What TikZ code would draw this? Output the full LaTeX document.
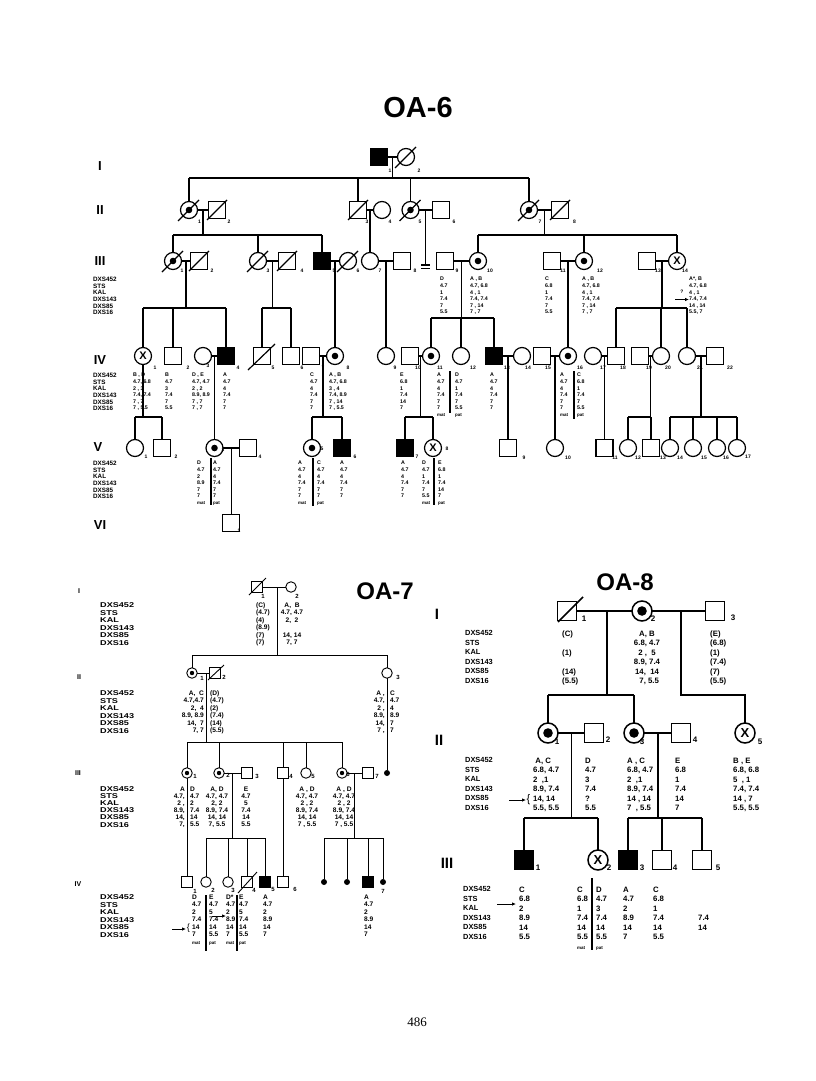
\documentclass[tikz,border=0pt]{standalone}
\usepackage{fontspec}
\setmainfont{Liberation Sans}
\newfontfamily\serifpn{Liberation Serif}
\newfontfamily\widesf[FakeStretch=1.3]{Liberation Sans}
\usetikzlibrary{calc,arrows.meta}
\newcommand\fav{\fontsize{5.3}{6.6}\selectfont\bfseries}
\newcommand\fal{\fontsize{6.3}{6.6}\selectfont\bfseries}
\newcommand\fan{\fontsize{5}{6}\selectfont\bfseries}
\newcommand\fmp{\fontsize{4.5}{5}\selectfont\bfseries}
\newcommand\fbv{\fontsize{6.6}{7.5}\selectfont\bfseries}
\newcommand\fbw{\fontsize{6.6}{7.1}\selectfont\bfseries}
\newcommand\fbl{\widesf\fontsize{7}{7.5}\selectfont\bfseries}
\newcommand\fblw{\widesf\fontsize{7}{7.1}\selectfont\bfseries}
\newcommand\fbn{\fontsize{6}{6}\selectfont\bfseries}
\newcommand\fcv{\fontsize{7.8}{9.5}\selectfont\bfseries}
\newcommand\fcl{\fontsize{7.4}{9.5}\selectfont\bfseries}
\newcommand\fcn{\fontsize{8}{8}\selectfont\bfseries}
\newcommand\mar[4][0.5]{\draw[lnk] (#2.east) -- coordinate[pos=#1] (#4) (#3.west);}
\newcommand\kid[2]{\draw[lnk] (#1.north) -- (#1.north |- 0,#2);}
\newcommand\sib[3]{\draw[lnk] (#1.north |- 0,#3) -- (#2.north |- 0,#3);}
\newcommand\pdown[2]{\draw[lnk] (#1) -- (#1 |- 0,#2);}
\newcommand\pto[2]{\draw[lnk] (#1) -- (#1 |- #2.north);}
\newcommand\slashit[5]{\draw[lnk] ($(#1.center)+(#2,#3)$) -- ($(#1.center)+(#4,#5)$);}
\newcommand\dotin[2]{\fill (#1.center) circle[radius=#2];}
\begin{document}
\begin{tikzpicture}[x=1pt,y=-1pt,
  lnk/.style={line width=1.2pt},
  bar/.style={line width=1.8pt},
  ar/.style={line width=0.8pt,-{Latex[length=4pt,width=3.5pt]}},
  m6/.style={draw,line width=1.2pt,minimum size=17pt,inner sep=0pt,outer sep=0pt},
  f6/.style={circle,draw,line width=1.2pt,minimum size=17pt,inner sep=0pt,outer sep=0pt},
  x6/.style={f6,font=\fontsize{11}{11}\selectfont\bfseries},
  m7/.style={draw,line width=0.9pt,minimum size=11.5pt,inner sep=0pt,outer sep=0pt},
  f7/.style={circle,draw,line width=0.9pt,minimum size=10.5pt,inner sep=0pt,outer sep=0pt},
  d7/.style={circle,fill,minimum size=6pt,inner sep=0pt,outer sep=0pt},
  m8/.style={draw,line width=1.5pt,minimum size=19pt,inner sep=0pt,outer sep=0pt},
  f8/.style={circle,draw,line width=1.5pt,minimum size=20pt,inner sep=0pt,outer sep=0pt},
  x8/.style={f8,font=\fontsize{13}{13}\selectfont\bfseries},
  tv/.style={anchor=north west,inner sep=0pt,align=left},
  tr/.style={anchor=north east,inner sep=0pt,align=right},
  tc/.style={anchor=north,inner sep=0pt,align=center},
  v6/.style={tv,font=\fav}, l6/.style={tv,font=\fal},
  v7/.style={tv,font=\fbv}, r7/.style={tr,font=\fbv}, c7/.style={tc,font=\fbv}, l7/.style={tv,font=\fbl},
  w7/.style={tv,font=\fbw}, wr7/.style={tr,font=\fbw}, wc7/.style={tc,font=\fbw}, wl7/.style={tv,font=\fblw},
  v8/.style={tv,font=\fcv}, c8/.style={tc,font=\fcv}, l8/.style={tv,font=\fcl},
  n6/.style={font=\fan,inner sep=0pt},
  n7/.style={font=\fbn,inner sep=0pt},
  n8/.style={font=\fcn,inner sep=0pt},
  g6/.style={font=\fontsize{13}{13}\selectfont\bfseries,inner sep=0pt},
  g7/.style={font=\fontsize{7}{7}\selectfont\bfseries,inner sep=0pt},
  g8/.style={font=\fontsize{15}{15}\selectfont\bfseries,inner sep=0pt}]
\useasboundingbox (0,0) rectangle (816,1081);
\fill[white] (0,0) rectangle (816,1081);

%================ OA-6 =================
\begin{scope}[lnk/.style={line width=1.2pt}]
\node[font=\fontsize{29}{30}\selectfont\bfseries] (tA) at (418,108) {OA-6};
\node[g6] (gA1) at (100,166) {I};
\node[g6] (gA2) at (100,210) {II};
\node[g6] (gA3) at (100,261) {III};
\node[g6] (gA4) at (100,360) {IV};
\node[g6] (gA5) at (98,447) {V};
\node[g6] (gA6) at (100,525) {VI};
% Gen I
\node[m6,fill=black] (a11) at (379,157) {};
\node[f6] (a12) at (406,157) {}; \slashit{a12}{-11}{11}{10}{-10}
\mar{a11}{a12}{ma1}
\pdown{ma1}{178}
% Gen II
\node[f6] (a21) at (189,210) {}; \dotin{a21}{3.3pt}\slashit{a21}{-11}{11}{10}{-10}
\node[m6] (a22) at (217,210) {}; \slashit{a22}{-10}{10}{10}{-10}
\node[m6] (a23) at (358,210) {}; \slashit{a23}{-10}{10}{10}{-10}
\node[f6] (a24) at (382,210) {};
\node[f6] (a25) at (410.5,210) {}; \dotin{a25}{3.3pt}\slashit{a25}{-11}{11}{10}{-10}
\node[m6] (a26) at (441,210) {};
\node[f6] (a27) at (529,210) {}; \dotin{a27}{3.3pt}\slashit{a27}{-11}{11}{10}{-10}
\node[m6] (a28) at (560,210) {}; \slashit{a28}{-10}{10}{10}{-10}
\sib{a21}{a27}{178}
\kid{a21}{178}\kid{a23}{178}\kid{a25}{178}\kid{a27}{178}
\mar{a21}{a22}{ma21}\mar{a23}{a24}{ma23}\mar{a25}{a26}{ma25}\mar{a27}{a28}{ma27}
\pdown{ma21}{235}
\pdown{ma27}{235}
\coordinate (eq) at (ma25 |- 0,265);
\draw[lnk] (ma25) -- (eq);
\draw[lnk] ($(eq)+(-4.5,0)$) -- ($(eq)+(4.5,0)$);
\draw[lnk] ($(eq)+(-4.5,3.5)$) -- ($(eq)+(4.5,3.5)$);
% Gen III
\node[f6] (a31) at (173,261) {}; \dotin{a31}{3.3pt}\slashit{a31}{-11}{11}{10}{-10}
\node[m6] (a32) at (199,261) {}; \slashit{a32}{-10}{10}{10}{-10}
\node[f6] (a33) at (258,261) {}; \slashit{a33}{-11}{11}{10}{-10}
\node[m6] (a34) at (287,261) {}; \slashit{a34}{-10}{10}{10}{-10}
\node[m6,fill=black] (a35) at (322,261) {};
\node[f6] (a36) at (348,261) {}; \slashit{a36}{-11}{11}{10}{-10}
\node[f6] (a37) at (370,261) {};
\node[m6] (a38) at (402,261) {};
\node[m6] (a39) at (445,261) {};
\node[f6] (a310) at (478,261) {}; \dotin{a310}{3.3pt}
\node[m6] (a311) at (552,261) {};
\node[f6] (a312) at (584,261) {}; \dotin{a312}{3.3pt}
\node[m6] (a313) at (647,261) {};
\node[x6] (a314) at (677,261) {X};
\pto{ma23}{a37}
\sib{a31}{a35}{235}\kid{a31}{235}\kid{a33}{235}\kid{a35}{235}
\sib{a310}{a314}{235}\kid{a310}{235}\kid{a312}{235}\kid{a314}{235}
\mar{a31}{a32}{ma31}\mar{a33}{a34}{ma33}\mar{a35}{a36}{ma35}\mar{a37}{a38}{ma37}
\mar{a39}{a310}{ma39}\mar{a311}{a312}{ma311}\mar{a313}{a314}{ma313}
\pdown{ma31}{308}\pdown{ma33}{308}\pdown{ma39}{318}\pdown{ma313}{308}
% Gen IV
\node[x6] (a41) at (143,356) {X};
\node[m6] (a42) at (173,356) {};
\node[f6] (a43) at (203,356) {};
\node[m6,fill=black] (a44) at (226,356) {};
\node[m6] (a45) at (262,356) {}; \slashit{a45}{-14}{14}{13}{-12}
\node[m6] (a46) at (291,356) {};
\node[m6] (a47) at (311,356) {};
\node[f6] (a48) at (335,356) {}; \dotin{a48}{3.3pt}
\node[f6] (a49) at (386,356) {};
\node[m6] (a410) at (410,356) {};
\node[f6] (a411) at (431,356) {}; \dotin{a411}{3.3pt}
\node[f6] (a412) at (461,356) {};
\node[m6,fill=black] (a413) at (494,356) {};
\node[f6] (a414) at (522,356) {};
\node[m6] (a415) at (542,356) {};
\node[f6] (a416) at (568,356) {}; \dotin{a416}{3.3pt}
\node[f6] (a417) at (593,356) {};
\node[m6] (a418) at (616,356) {};
\node[m6] (a419) at (640,356) {};
\node[f6] (a420) at (661,356) {};
\node[f6] (a421) at (687,356) {};
\node[m6] (a422) at (715,356) {};
\pto{ma35}{a48}\pto{ma37}{a49}\pto{ma311}{a416}
\sib{a41}{a44}{308}\kid{a41}{308}\kid{a42}{308}\kid{a44}{308}
\sib{a45}{a46}{308}\kid{a45}{308}\kid{a46}{308}
\sib{a411}{a413}{318}\kid{a411}{318}\kid{a412}{318}\kid{a413}{318}
\sib{a418}{a421}{308}\kid{a418}{308}\kid{a420}{308}\kid{a421}{308}
\mar{a43}{a44}{ma43}\mar{a47}{a48}{ma47}\mar{a410}{a411}{ma410}\mar{a413}{a414}{ma413}
\mar{a415}{a416}{ma415}\mar{a417}{a418}{ma417}\mar{a419}{a420}{ma419}\mar{a421}{a422}{ma421}
\draw[lnk] (a41.south) -- (a41.south |- 0,417);
\pdown{ma47}{417}\pdown{ma410}{417}\pdown{ma419}{417}\pdown{ma421}{417}
% Gen V
\node[f6] (a51) at (135,448) {};
\node[m6] (a52) at (162,448) {};
\node[f6] (a53) at (214.5,448) {}; \dotin{a53}{3.3pt}
\node[m6] (a54) at (248,448) {};
\node[f6] (a55) at (312,448) {}; \dotin{a55}{3.3pt}
\node[m6,fill=black] (a56) at (342,448) {};
\node[m6,fill=black] (a57) at (405,448) {};
\node[x6] (a58) at (433,448) {X};
\node[m6] (a59) at (508,448) {};
\node[f6] (a510) at (555,448) {};
\node[m6] (a511) at (604.5,448) {};
\node[f6] (a512) at (628,448) {};
\node[m6] (a513) at (651,448) {};
\node[f6] (a514) at (670,448) {};
\node[f6] (a515) at (693,448) {};
\node[f6] (a516) at (717,448) {};
\node[f6] (a517) at (737,448) {};
\pto{ma43}{a53}\pto{ma413}{a59}\pto{ma415}{a510}\pto{ma417}{a511}
\sib{a51}{a52}{417}\kid{a51}{417}\kid{a52}{417}
\sib{a55}{a56}{417}\kid{a55}{417}\kid{a56}{417}
\sib{a57}{a58}{417}\kid{a57}{417}\kid{a58}{417}
\sib{a512}{a513}{417}\kid{a512}{417}\kid{a513}{417}
\sib{a514}{a517}{417}\kid{a514}{417}\kid{a515}{417}\kid{a516}{417}\kid{a517}{417}
\mar{a53}{a54}{ma53}
% Gen VI
\node[m6] (a61) at (231.25,523) {};
\pto{ma53}{a61}
% numbers
\node[n6] (k11) at (390,171) {1}; \node[n6] (k12) at (419,171) {2};
\node[n6] (k21) at (199.5,222) {1}; \node[n6] (k22) at (229,222) {2};
\node[n6] (k23) at (367,222) {3}; \node[n6] (k24) at (390,222) {4};
\node[n6] (k25) at (420,222) {5}; \node[n6] (k26) at (454,222) {6};
\node[n6] (k27) at (540,222) {7}; \node[n6] (k28) at (574.6,222) {8};
\node[n6] (k31) at (182,271) {1}; \node[n6] (k32) at (212,271) {2};
\node[n6] (k33) at (268,271) {3}; \node[n6] (k34) at (302,271) {4};
\node[n6] (k35) at (334,271) {5}; \node[n6] (k36) at (358,271) {6};
\node[n6] (k37) at (380,271) {7}; \node[n6] (k38) at (415,271) {8};
\node[n6] (k39) at (457,271) {9}; \node[n6] (k310) at (490,271) {10};
\node[n6] (k311) at (563,271) {11}; \node[n6] (k312) at (600,271) {12};
\node[n6] (k313) at (658,271) {13}; \node[n6] (k314) at (685,271) {14};
\node[n6] (k41) at (155,368) {1}; \node[n6] (k42) at (188,368) {2};
\node[n6] (k43) at (208,366) {3}; \node[n6] (k44) at (238,368) {4};
\node[n6] (k45) at (273,368) {5}; \node[n6] (k46) at (302,368) {6};
\node[n6] (k47) at (323,368) {7}; \node[n6] (k48) at (348,368) {8};
\node[n6] (k49) at (395,368) {9}; \node[n6] (k410) at (418,368) {10};
\node[n6] (k411) at (440,368) {11}; \node[n6] (k412) at (473,368) {12};
\node[n6] (k413) at (507,368) {13}; \node[n6] (k414) at (528,368) {14};
\node[n6] (k415) at (548,368) {15}; \node[n6] (k416) at (580,368) {16};
\node[n6] (k417) at (603,368) {17}; \node[n6] (k418) at (623,368) {18};
\node[n6] (k419) at (649,368) {19}; \node[n6] (k420) at (668,368) {20};
\node[n6] (k421) at (700,368) {21}; \node[n6] (k422) at (730,368) {22};
\node[n6] (k51) at (146,457) {1}; \node[n6] (k52) at (176,457) {2};
\node[n6] (k53) at (223,450) {3}; \node[n6] (k54) at (260,457) {4};
\node[n6] (k55) at (322,449) {5}; \node[n6] (k56) at (355,457) {6};
\node[n6] (k57) at (417,457) {7}; \node[n6] (k58) at (447,449) {8};
\node[n6] (k59) at (524,458) {9}; \node[n6] (k510) at (568,458) {10};
\node[n6] (k511) at (615,458) {11}; \node[n6] (k512) at (638,458) {12};
\node[n6] (k513) at (663,458) {13}; \node[n6] (k514) at (680,458) {14};
\node[n6] (k515) at (704,458) {15}; \node[n6] (k516) at (726,458) {16};
\node[n6] (k517) at (748,457) {17};
\node[n6] (k61) at (239,531) {1};
% marker tables III
\node[l6] (lA3) at (93,277) {DXS452\\STS\\KAL\\DXS143\\DXS85\\DXS16};
\node[v6] (t39) at (440,277) {D\\4.7\\1\\7.4\\7\\5.5};
\node[v6] (t310) at (470,277) {A , B\\4.7, 6.8\\4 , 1\\7.4, 7.4\\7 , 14\\7 , 7};
\node[v6] (t311) at (545,277) {C\\6.8\\1\\7.4\\7\\5.5};
\node[v6] (t312) at (582,277) {A , B\\4.7, 6.8\\4 , 1\\7.4, 7.4\\7 , 14\\7 , 7};
\node[v6] (t314) at (689,277) {A*, B\\4.7, 6.8\\4 , 1\\7.4, 7.4\\14 , 14\\5.5, 7};
\node[n6] (q314) at (682,292) {?};
\coordinate (ar6a) at (675,299.5); \coordinate (ar6b) at (689,299.5);
\draw[ar] (ar6a) -- (ar6b);
% marker tables IV
\node[l6] (lA4) at (93,373) {DXS452\\STS\\KAL\\DXS143\\DXS85\\DXS16};
\node[v6] (t41) at (133,373) {B , D\\4.7, 6.8\\2 , 3\\7.4, 7.4\\7 , 7\\7 , 5.5};
\node[v6] (t42) at (165,373) {B\\4.7\\3\\7.4\\7\\5.5};
\node[v6] (t43) at (192,373) {D , E\\4.7, 4.7\\2 , 2\\8.9, 8.9\\7 , 7\\7 , 7};
\node[v6] (t44) at (223,373) {A\\4.7\\4\\7.4\\7\\7};
\node[v6] (t47) at (310,373) {C\\4.7\\4\\7.4\\7\\7};
\node[v6] (t48) at (329,373) {A , B\\4.7, 6.8\\3 , 4\\7.4, 8.9\\7 , 14\\7 , 5.5};
\node[v6] (t410) at (400,373) {E\\6.8\\1\\7.4\\14\\7};
\node[v6] (t411) at (437,373) {A\\4.7\\4\\7.4\\7\\7\\{\fmp mat}};
\draw[bar] (450,371) -- (450,413);
\node[v6] (t412) at (455,373) {D\\4.7\\1\\7.4\\7\\5.5\\{\fmp pat}};
\node[v6] (t413) at (490,373) {A\\4.7\\4\\7.4\\7\\7};
\node[v6] (t416a) at (560,373) {A\\4.7\\4\\7.4\\7\\7\\{\fmp mat}};
\draw[bar] (574,371) -- (574,419);
\node[v6] (t416b) at (577,373) {C\\6.8\\1\\7.4\\7\\5.5\\{\fmp pat}};
% marker tables V
\node[l6] (lA5) at (93,461) {DXS452\\STS\\KAL\\DXS143\\DXS85\\DXS16};
\node[v6] (t53a) at (197,461) {D\\4.7\\2\\8.9\\7\\7\\{\fmp mat}};
\draw[bar] (211,458) -- (211,505);
\node[v6] (t53b) at (213,461) {A\\4.7\\4\\7.4\\7\\7\\{\fmp pat}};
\node[v6] (t55a) at (298,461) {A\\4.7\\4\\7.4\\7\\7\\{\fmp mat}};
\draw[bar] (313,458) -- (313,506);
\node[v6] (t55b) at (317,461) {C\\4.7\\4\\7.4\\7\\7\\{\fmp pat}};
\node[v6] (t56) at (340,461) {A\\4.7\\4\\7.4\\7\\7};
\node[v6] (t57) at (401,461) {A\\4.7\\4\\7.4\\7\\7};
\node[v6] (t58a) at (422,461) {D\\4.7\\1\\7.4\\7\\5.5\\{\fmp mat}};
\draw[bar] (434,458) -- (434,505);
\node[v6] (t58b) at (438,461) {E\\6.8\\1\\7.4\\14\\7\\{\fmp pat}};
\end{scope}

%================ OA-7 =================
\begin{scope}[lnk/.style={line width=0.9pt}]
\node[font=\fontsize{24}{25}\selectfont\bfseries] (tB) at (385,591) {OA-7};
\node[g7] (gB1) at (79,591) {I};
\node[g7] (gB2) at (79,677) {II};
\node[g7] (gB3) at (78,773) {III};
\node[g7] (gB4) at (78,884) {IV};
\node[m7] (b11) at (257,587) {}; \slashit{b11}{-8}{8}{9}{-9}
\node[f7] (b12) at (291,587) {};
\mar[0.65]{b11}{b12}{mb1}
\node[f7] (b21) at (192,673) {}; \dotin{b21}{2.2pt}
\node[m7] (b22) at (215,673) {}; \slashit{b22}{-7}{7}{9}{-8}
\node[f7] (b23) at (387,673) {};
\pdown{mb1}{655}
\sib{b21}{b23}{655}\kid{b21}{655}\kid{b23}{655}
\mar[0.75]{b21}{b22}{mb2}
\pdown{mb2}{742}
\node[f7] (b31) at (187,773) {}; \dotin{b31}{2.2pt}
\node[f7] (b32) at (219,773) {}; \dotin{b32}{2.2pt}
\node[m7] (b33) at (247,773) {};
\node[m7] (b34) at (283,773) {};
\node[f7] (b35) at (306,773) {};
\node[f7] (b36) at (342,773) {}; \dotin{b36}{2.2pt}
\node[m7] (b37) at (368,773) {};
\node[d7] (b3d) at (387,773) {};
\sib{b31}{b36}{742}\kid{b31}{742}\kid{b32}{742}\kid{b34}{742}\kid{b35}{742}\kid{b36}{742}
\draw[lnk] (b23.south) -- (b3d.north);
\mar{b32}{b33}{mb3}\mar{b36}{b37}{mb36}
\pdown{mb3}{838}\pdown{mb36}{838}
\node[m7] (b41) at (187,882) {};
\node[f7] (b42) at (206,882) {};
\node[f7] (b43) at (228,882) {};
\node[m7] (b44) at (247,882) {}; \slashit{b44}{-9}{11}{10}{-10}
\node[m7,fill=black] (b45) at (265,882) {};
\node[m7] (b46) at (283,882) {};
\node[d7] (b4a) at (324,882) {};
\node[d7] (b4b) at (347,882) {};
\node[m7,fill=black] (b4c) at (368,882) {};
\node[d7] (b4d) at (383,882) {};
\draw[lnk] (b31.south) -- (b41.north);
\draw[lnk] (b34.south) -- (b46.north);
\sib{b42}{b45}{838}\kid{b42}{838}\kid{b43}{838}\kid{b44}{838}\kid{b45}{838}
\sib{b4a}{b4d}{838}\kid{b4a}{838}\kid{b4b}{838}\kid{b4c}{838}\kid{b4d}{838}
% numbers
\node[n7] (kb11) at (263,596) {1}; \node[n7] (kb12) at (297,596) {2};
\node[n7] (kb21) at (202,678) {1}; \node[n7] (kb22) at (224,677) {2};
\node[n7] (kb23) at (398,677) {3};
\node[n7] (kb31) at (195,776) {1}; \node[n7] (kb32) at (228,775) {2};
\node[n7] (kb33) at (257,776) {3}; \node[n7] (kb34) at (291,776) {4};
\node[n7] (kb35) at (313,776) {5}; \node[n7] (kb36) at (348,774) {6};
\node[n7] (kb37) at (377,776) {7};
\node[n7] (kb41) at (195,891) {1}; \node[n7] (kb42) at (213,890) {2};
\node[n7] (kb43) at (233,890) {3}; \node[n7] (kb44) at (254,890) {4};
\node[n7] (kb45) at (273,889) {5}; \node[n7] (kb46) at (295,889) {6};
\node[n7] (kb47) at (383,891) {7};
% tables
\node[l7] (lB1) at (100,602.5) {DXS452\\STS\\KAL\\DXS143\\DXS85\\DXS16};
\node[v7] (u11) at (256,602.5) {(C)\\(4.7)\\(4)\\(8.9)\\(7)\\(7)};
\node[c7] (u12) at (292,602.5) {A,\ \ B\\4.7, 4.7\\2,\ \ 2\\\mbox{}\\14, 14\\7,\ 7};
\node[l7] (lB2) at (100,690.5) {DXS452\\STS\\KAL\\DXS143\\DXS85\\DXS16};
\node[r7] (u21) at (204,690.5) {A,\ \ C\\4.7,4.7\\2,\ \ 4\\8.9, 8.9\\14,\ \ 7\\7, 7};
\node[v7] (u22) at (210,690.5) {(D)\\(4.7)\\(2)\\(7.4)\\(14)\\(5.5)};
\node[r7] (u23a) at (385,690.5) {A ,\\4.7,\\2 ,\\8.9,\\14,\\7 ,};
\node[v7] (u23b) at (390,690.5) {C\\4.7\\4\\8.9\\7\\7};
\node[wl7] (lB3) at (100,786.5) {DXS452\\STS\\KAL\\DXS143\\DXS85\\DXS16};
\node[wr7] (u31a) at (185,786.5) {A\ \\4.7,\\2 ,\\8.9,\\14,\\7,};
\node[w7] (u31b) at (190,786.5) {D\\4.7\\2\\7.4\\14\\5.5};
\node[wc7] (u32) at (217,786.5) {A, D\\4.7, 4.7\\2, 2\\8.9, 7.4\\14, 14\\7, 5.5};
\node[wc7] (u33) at (246,786.5) {E\\4.7\\5\\7.4\\14\\5.5};
\node[wc7] (u35) at (307,786.5) {A , D\\4.7, 4.7\\2 , 2\\8.9, 7.4\\14, 14\\7 , 5.5};
\node[wc7] (u36) at (344,786.5) {A , D\\4.7, 4.7\\2 , 2\\8.9, 7.4\\14, 14\\7 , 5.5};
\node[l7] (lB4) at (100,894.5) {DXS452\\STS\\KAL\\DXS143\\DXS85\\DXS16};
\node[v7] (u41) at (192,894.5) {D\\4.7\\2\\7.4\\14\\7\\{\fmp mat}};
\draw[bar,line width=1.4pt] (206,895) -- (206,951);
\node[v7] (u42) at (209,894.5) {E\\4.7\\5\\7.4\\14\\5.5\\{\fmp pat}};
\node[v7] (u43) at (226,894.5) {D*\\4.7\\2\\8.9\\14\\7\\{\fmp mat}};
\draw[bar,line width=1.4pt] (237,895) -- (237,951);
\node[v7] (u44) at (239,894.5) {E\\4.7\\5\\7.4\\14\\5.5\\{\fmp pat}};
\node[v7] (u45) at (263,894.5) {A\\4.7\\2\\8.9\\14\\7};
\node[v7] (u4c) at (364,894.5) {A\\4.7\\2\\8.9\\14\\7};
\node[font=\fontsize{9}{9}\selectfont,inner sep=0pt] (br7) at (188.5,928) {\{};
\coordinate (ar7a) at (172,929); \coordinate (ar7b) at (186,929);
\draw[ar] (ar7a) -- (ar7b);
\coordinate (ar7c) at (212,916); \coordinate (ar7d) at (226,916);
\draw[ar] (ar7c) -- (ar7d);
\end{scope}

%================ OA-8 =================
\begin{scope}[lnk/.style={line width=1.5pt}]
\node[font=\fontsize{24}{25}\selectfont\bfseries] (tC) at (625,582) {OA-8};
\node[g8] (gC1) at (437,614) {I};
\node[g8] (gC2) at (439,740) {II};
\node[g8] (gC3) at (447,863) {III};
\node[m8] (c11) at (567,611) {}; \slashit{c11}{-9}{11}{16}{-14}
\node[f8] (c12) at (642,611) {}; \dotin{c12}{4.8pt}
\node[m8] (c13) at (715,611) {};
\mar[0.545]{c11}{c12}{mc1}
\mar[0.54]{c12}{c13}{mc2}
\node[f8] (c21) at (548,733) {}; \dotin{c21}{4.8pt}
\node[m8] (c22) at (594,733) {};
\node[f8] (c23) at (634,733) {}; \dotin{c23}{4.8pt}
\node[m8] (c24) at (681,733) {};
\node[x8] (c25) at (745,733) {X};
\pdown{mc1}{695}
\sib{c21}{c23}{695}\kid{c21}{695}\kid{c23}{695}
\draw[lnk] (mc2) -- (mc2 |- 0,695) -| (c25.north);
\mar{c21}{c22}{mc21}\mar{c23}{c24}{mc23}
\pdown{mc21}{818}\pdown{mc23}{818}
\node[m8,fill=black] (c31) at (524,860) {};
\node[x8] (c32) at (598,860) {X};
\node[m8,fill=black] (c33) at (628,860) {};
\node[m8] (c34) at (662,860) {};
\node[m8] (c35) at (702,860) {};
\sib{c31}{c32}{818}\kid{c31}{818}\kid{c32}{818}
\sib{c33}{c35}{818}\kid{c33}{818}\kid{c34}{818}\kid{c35}{818}
% numbers
\node[n8] (kc11) at (584,619) {1}; \node[n8] (kc12) at (653,619) {2};
\node[n8] (kc13) at (733,618) {3};
\node[n8] (kc21) at (557,742) {1}; \node[n8] (kc22) at (608,740) {2};
\node[n8] (kc23) at (642,742) {3}; \node[n8] (kc24) at (695,740) {4};
\node[n8] (kc25) at (760,742) {5};
\node[n8] (kc31) at (538,868) {1}; \node[n8] (kc32) at (609,868) {2};
\node[n8] (kc33) at (642,868) {3}; \node[n8] (kc34) at (675,868) {4};
\node[n8] (kc35) at (718,868) {5};
% tables
\node[l8] (lC1) at (465,630.5) {DXS452\\STS\\KAL\\DXS143\\DXS85\\DXS16};
\node[v8] (w11) at (562,630.5) {(C)\\\mbox{}\\(1)\\\mbox{}\\(14)\\(5.5)};
\node[c8] (w12) at (647,630.5) {A,\ B\\6.8, 4.7\\2\ ,\ \ 5\\8.9, 7.4\\14,\ \ 14\\\ \ 7, 5.5};
\node[v8] (w13) at (710,630.5) {(E)\\(6.8)\\(1)\\(7.4)\\(7)\\(5.5)};
\node[l8] (lC2) at (465,757.5) {DXS452\\STS\\KAL\\DXS143\\DXS85\\DXS16};
\node[v8] (w21) at (533,757.5) {\ A, C\\6.8, 4.7\\2\ \ ,1\\8.9, 7.4\\14, 14\\5.5, 5.5};
\node[v8] (w22) at (585,757.5) {D\\4.7\\3\\7.4\\?\\5.5};
\node[v8] (w23) at (627,757.5) {A\ , C\\6.8, 4.7\\2\ \ ,1\\8.9, 7.4\\14 , 14\\7\ \ , 5.5};
\node[v8] (w24) at (675,757.5) {E\\6.8\\1\\7.4\\14\\7};
\node[v8] (w25) at (733,757.5) {B\ , E\\6.8, 6.8\\5\ \ , 1\\7.4, 7.4\\14\ , 7\\5.5, 5.5};
\node[font=\fontsize{11}{11}\selectfont,inner sep=0pt] (br8) at (528.5,800) {\{};
\coordinate (ar8a) at (509,800); \coordinate (ar8b) at (526,800);
\draw[ar] (ar8a) -- (ar8b);
\node[l8] (lC3) at (463,886.5) {DXS452\\STS\\KAL\\DXS143\\DXS85\\DXS16};
\node[v8] (w31) at (519,886.5) {C\\6.8\\2\\8.9\\14\\5.5};
\coordinate (ar8c) at (497,904); \coordinate (ar8d) at (516,904);
\draw[ar] (ar8c) -- (ar8d);
\node[v8] (w32a) at (577,886.5) {C\\6.8\\1\\7.4\\14\\5.5\\{\fmp mat}};
\draw[bar] (592,878) -- (592,950);
\node[v8] (w32b) at (596,886.5) {D\\4.7\\3\\7.4\\14\\5.5\\{\fmp pat}};
\node[v8] (w33) at (623,886.5) {A\\4.7\\2\\8.9\\14\\7};
\node[v8] (w34) at (653,886.5) {C\\6.8\\1\\7.4\\14\\5.5};
\node[v8] (w35) at (698,915) {7.4\\14};
\end{scope}

\node[font=\serifpn\fontsize{13}{13}\selectfont,inner sep=0pt] (pg) at (417,1022) {486};
\end{tikzpicture}
\end{document}
